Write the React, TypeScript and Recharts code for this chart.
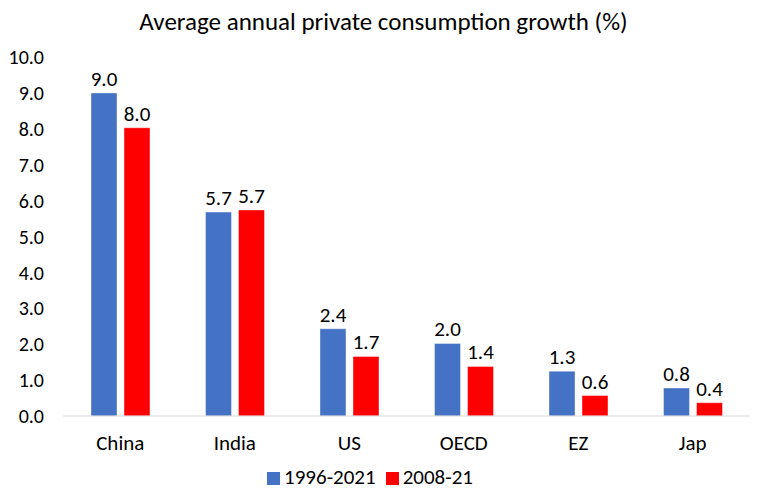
import { BarChart, Bar, XAxis, YAxis, Legend, LabelList } from "recharts";

const categories = ["China", "India", "US", "OECD", "EZ", "Jap"];
const longRun = [9.0, 5.68, 2.43, 2.02, 1.25, 0.78];
const postCrisis = [8.03, 5.74, 1.66, 1.38, 0.57, 0.37];
const yTicks = [0, 1, 2, 3, 4, 5, 6, 7, 8, 9, 10];

const data = categories.map((name, i) => ({
  name,
  a: longRun[i],
  b: postCrisis[i],
}));

const font = "Carlito, Calibri, Lato, sans-serif";
const fmt = (v: number) => Number(v).toFixed(1);

export default function App() {
  return (
    <div
      style={{
        position: "absolute",
        left: 0,
        top: 0,
        width: 767,
        height: 500,
        background: "#fff",
        fontFamily: font,
      }}
    >
      <div
        style={{
          position: "absolute",
          top: 6,
          width: 767,
          textAlign: "center",
          fontSize: 25,
          color: "#000",
        }}
      >
        Average annual private consumption growth (%)
      </div>
      <BarChart
        width={767}
        height={500}
        data={data}
        margin={{ top: 57, right: 17, left: 0, bottom: 10 }}
        barSize={26}
        barGap={7}
      >
        <XAxis
          dataKey="name"
          tickLine={false}
          axisLine={{ stroke: "#D9D9D9" }}
          tick={{ fontSize: 21, fill: "#000", fontFamily: font }}
          tickMargin={13}
          height={48}
        />
        <YAxis
          domain={[0, 10]}
          ticks={yTicks}
          tickFormatter={fmt}
          axisLine={false}
          tickLine={false}
          width={63}
          tickMargin={13}
          tick={{ fontSize: 20, fill: "#000", fontFamily: font }}
        />
        <Legend
          verticalAlign="bottom"
          iconType="square"
          iconSize={13}
          wrapperStyle={{ fontSize: 21, color: "#000", fontFamily: font }}
          formatter={(v) => <span style={{ color: "#000" }}>{v}</span>}
        />
        <Bar
          dataKey="a"
          name="1996-2021"
          fill="#4472C4"
          stroke="#ffffff"
          strokeOpacity={0.4}
          isAnimationActive={false}
        >
          <LabelList
            dataKey="a"
            position="top"
            formatter={fmt}
            style={{ fontSize: 21, fill: "#000", fontFamily: font }}
            offset={7}
          />
        </Bar>
        <Bar
          dataKey="b"
          name="2008-21"
          fill="#FF0000"
          stroke="#ffffff"
          strokeOpacity={0.4}
          isAnimationActive={false}
        >
          <LabelList
            dataKey="b"
            position="top"
            formatter={fmt}
            style={{ fontSize: 21, fill: "#000", fontFamily: font }}
            offset={7}
          />
        </Bar>
      </BarChart>
    </div>
  );
}
